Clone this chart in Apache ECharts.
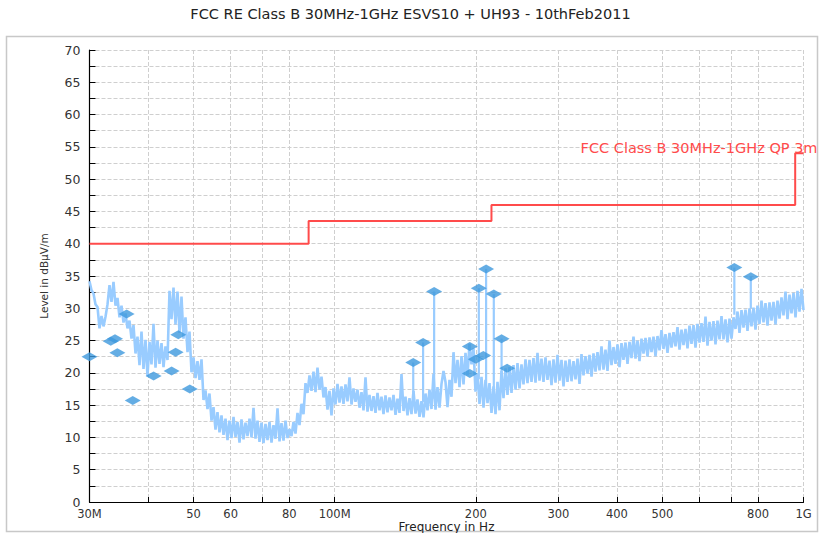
<!DOCTYPE html>
<html>
<head>
<meta charset="utf-8">
<script src="https://cdn.jsdelivr.net/npm/echarts@6/dist/echarts.min.js"></script>
<style>
  html, body { margin: 0; padding: 0; background: #fff; }
  #chart { width: 821px; height: 533px; }
</style>
</head>
<body>
<div id="chart"></div>
<script>
// sweep 30 MHz .. 1 GHz, log spaced points, level in dBµV/m
const sweepStartMHz = 30
const sweepStopMHz = 1000
const sweepLevels = [
  34.2, 32.8, 32.3, 30.6, 30.2, 26.9, 28.8, 27.2, 28.7, 30.6,
  33.6, 31.0, 34.1, 30.4, 31.6, 28.6, 30.4, 27.8, 29.2, 26.9,
  28.1, 25.3, 27.4, 23.0, 25.6, 21.2, 26.4, 20.6, 25.1, 19.5,
  24.8, 21.3, 27.6, 20.8, 25.0, 21.4, 24.6, 20.9, 24.1, 22.0,
  32.7, 28.3, 33.2, 27.5, 32.6, 26.2, 31.8, 25.3, 28.6, 23.2,
  26.4, 20.1, 22.4, 19.2, 21.8, 18.9, 22.1, 15.8, 17.3, 14.4,
  16.8, 12.6, 14.7, 11.2, 13.9, 10.8, 13.4, 10.4, 12.9, 9.6,
  12.6, 9.9, 13.2, 10.1, 12.4, 9.2, 12.8, 9.7, 12.3, 10.2,
  12.9, 10.0, 14.6, 9.8, 12.6, 9.3, 12.3, 9.1, 12.1, 9.6,
  12.4, 9.2, 11.9, 9.8, 14.5, 9.4, 12.2, 9.5, 12.6, 9.9,
  11.3, 10.2, 12.4, 10.6, 13.8, 11.9, 15.2, 13.6, 18.4, 16.9,
  19.6, 17.2, 20.2, 17.0, 20.8, 17.4, 19.4, 16.2, 17.8, 14.3,
  17.2, 13.4, 17.6, 15.1, 18.3, 15.4, 17.9, 15.2, 18.2, 15.6,
  19.3, 15.1, 17.6, 15.5, 17.4, 14.6, 17.0, 14.2, 19.3, 14.0,
  16.6, 14.1, 16.4, 13.8, 16.9, 14.2, 16.3, 13.6, 16.5, 13.9,
  16.2, 14.2, 16.6, 13.5, 16.0, 13.8, 19.8, 14.1, 16.3, 13.4,
  16.1, 13.6, 17.2, 13.7, 15.9, 13.2, 15.6, 13.1, 16.8, 14.2,
  17.4, 14.4, 19.8, 14.3, 17.8, 14.6, 18.3, 20.3, 18.6, 14.7,
  18.9, 16.3, 23.2, 18.4, 22.0, 17.8, 22.6, 18.2, 23.1, 19.6,
  24.5, 21.3, 23.8, 17.1, 19.8, 15.2, 19.4, 14.6, 18.9, 15.3,
  18.4, 13.8, 17.9, 13.6, 18.6, 14.2, 20.3, 16.1, 20.7, 16.6,
  20.9, 16.9, 21.2, 17.4, 21.5, 17.6, 21.3, 18.2, 22.1, 18.4,
  22.0, 18.6, 22.3, 18.5, 23.1, 18.8, 22.2, 18.6, 22.4, 18.9,
  21.9, 18.1, 22.1, 18.5, 22.8, 18.8, 22.0, 17.9, 21.9, 18.6,
  22.1, 18.7, 21.8, 19.0, 22.2, 18.3, 22.9, 19.6, 22.6, 19.9,
  22.8, 19.4, 23.0, 20.2, 23.2, 20.4, 24.1, 20.5, 23.6, 20.3,
  25.0, 21.2, 24.0, 21.4, 24.4, 20.9, 24.6, 22.0, 24.7, 21.4,
  24.8, 22.3, 25.6, 22.2, 25.0, 21.8, 25.3, 23.0, 25.4, 22.5,
  25.5, 23.2, 25.6, 22.6, 25.7, 23.5, 26.6, 23.7, 26.0, 23.1,
  26.2, 23.9, 26.3, 24.1, 27.1, 23.6, 26.7, 24.3, 26.8, 23.8,
  27.3, 24.5, 27.4, 23.9, 27.6, 24.7, 27.7, 24.8, 28.7, 24.2,
  27.9, 25.0, 28.0, 24.4, 28.1, 25.2, 28.8, 25.2, 28.3, 24.7,
  28.4, 25.3, 28.6, 26.8, 29.5, 26.2, 29.7, 27.0, 29.8, 26.5,
  30.0, 27.2, 30.1, 26.7, 30.4, 27.6, 31.2, 27.8, 30.8, 27.3,
  30.9, 28.1, 31.0, 27.5, 31.2, 28.4, 31.7, 28.9, 32.6, 28.3,
  32.1, 29.2, 32.4, 28.6, 32.7, 29.5, 33.0, 29.7
]

// final measurements (diamonds)
const markerFreqs = [30.0, 33.3, 34.0, 34.4, 36.0, 37.1, 41.1, 44.9, 45.8, 46.4, 49.1,
  147.1, 154.4, 163.0, 194.2, 194.2, 200.0, 203.0, 207.5, 210.4, 218.5, 227.0, 233.3, 712, 772]
const markerLevels = [22.5, 24.9, 25.3, 23.1, 29.1, 15.7, 19.5, 20.3, 23.2, 25.9, 17.5,
  21.6, 24.7, 32.6, 24.1, 19.9, 22.1, 33.1, 22.7, 36.1, 32.2, 25.3, 20.7, 36.3, 34.9]

// peak stems below the markers
const stemFreqs = [147.1, 154.4, 163.0, 203.0, 210.4, 218.5, 227.0, 712, 772]
const stemTops = [21.6, 24.7, 32.6, 33.1, 36.1, 32.2, 25.3, 36.3, 34.9]
const stemBottoms = [15.5, 15.5, 16.0, 19.0, 16.5, 15.0, 18.0, 29.0, 30.0]

// FCC class B QP 3m limit
const limitFreqs = [30, 88, 88, 216, 216, 960, 960, 1000]
const limitLevels = [40, 40, 43.5, 43.5, 46, 46, 54, 54]

const tickFreqs = [30, 40, 50, 60, 70, 80, 100, 200, 300, 400, 500, 600, 700, 800, 1000]
const labelFreqs = [30, 50, 60, 80, 100, 200, 300, 400, 500, 800, 1000]
const freqNames = { 30: '30M', 100: '100M', 1000: '1G' }

const font = 'DejaVu Sans'
const lg = f => (f === 1000 ? 3 : Math.log10(f))

let myChart = echarts.init(document.getElementById('chart'), null, { renderer: 'svg' })

const sweep = sweepLevels.map((v, i) => {
  const f = sweepStartMHz * Math.pow(sweepStopMHz / sweepStartMHz, i / (sweepLevels.length - 1))
  return [Math.log10(f), v]
})

let option = {
  animation: false,
  title: {
    text: 'FCC RE Class B 30MHz-1GHz ESVS10 + UH93 - 10thFeb2011',
    left: 'center',
    top: 1,
    textStyle: { fontFamily: font, fontSize: 14.5, fontWeight: 'normal', color: '#222' },
  },
  graphic: [
    {
      type: 'rect',
      shape: { x: 6.5, y: 36.5, width: 811, height: 495 },
      style: { fill: 'none', stroke: '#c8c8c8', lineWidth: 1.5 },
      silent: true,
      z: -10,
    },
  ],
  grid: { left: 89.5, right: 17.5, top: 50, bottom: 31, containLabel: false, outerBoundsMode: 'none' },
  xAxis: {
    type: 'value',
    min: lg(30),
    max: 3,
    name: 'Frequency in Hz',
    nameLocation: 'middle',
    nameGap: 19,
    nameMoveOverlap: false,
    nameTextStyle: { fontFamily: font, fontSize: 12, lineHeight: 12, color: '#222' },
    axisLine: { lineStyle: { color: '#000', width: 1.2 } },
    axisTick: {
      inside: true,
      length: 5,
      customValues: tickFreqs.map(lg),
      lineStyle: { color: '#000' },
    },
    axisLabel: {
      customValues: labelFreqs.map(lg),
      margin: 6,
      fontFamily: font,
      fontSize: 11.5,
      lineHeight: 12,
      color: '#333',
      formatter: (v) => {
        const f = Math.round(Math.pow(10, v))
        return freqNames[f] || String(f)
      },
    },
    splitLine: {
      show: true,
      lineStyle: { color: '#cfcfcf', type: 'dashed', width: 1 },
    },
  },
  yAxis: {
    type: 'value',
    min: 0,
    max: 70,
    interval: 5,
    name: 'Level in dBµV/m',
    nameLocation: 'middle',
    nameRotate: 90,
    nameGap: 40,
    nameTextStyle: { fontFamily: font, fontSize: 10.5, color: '#333' },
    axisLine: { show: true, lineStyle: { color: '#000', width: 1.2 } },
    axisTick: { show: true, inside: true, length: 6, lineStyle: { color: '#000' } },
    minorTick: { show: true, splitNumber: 2, length: 6, lineStyle: { color: '#000' } },
    axisLabel: { margin: 9, fontFamily: font, fontSize: 12.5, lineHeight: 10, color: '#333' },
    splitLine: { lineStyle: { color: '#cfcfcf', type: 'dashed' } },
    minorSplitLine: { show: true, lineStyle: { color: '#cfcfcf', type: 'dashed' } },
  },
  series: [
    {
      name: 'sweep',
      type: 'line',
      data: sweep,
      showSymbol: false,
      lineStyle: { color: '#99ccff', width: 2.6 },
      itemStyle: { color: '#99ccff' },
      z: 2,
    },
    {
      name: 'limit',
      type: 'line',
      data: limitFreqs.map((f, i) => {
        const item = { value: [lg(f), limitLevels[i]] }
        if (i === limitFreqs.length - 1) {
          item.label = {
            show: true,
            formatter: 'FCC Class B 30MHz-1GHz QP 3m',
            position: 'top',
            align: 'right',
            distance: 0,
            offset: [14, 2],
            fontFamily: font,
            fontSize: 14.5,
            color: '#ff4b4b',
          }
        }
        return item
      }),
      symbol: 'circle',
      symbolSize: 0,
      showSymbol: true,
      lineStyle: { color: '#ff4b4b', width: 2 },
      itemStyle: { color: '#ff4b4b' },
      z: 3,
    },
    {
      name: 'stems',
      type: 'custom',
      data: stemFreqs.map((f, i) => [lg(f), stemTops[i], stemBottoms[i]]),
      encode: { x: 0, y: [1, 2] },
      renderItem: (params, api) => {
        const top = api.coord([api.value(0), api.value(1)])
        const bot = api.coord([api.value(0), api.value(2)])
        return {
          type: 'line',
          shape: { x1: top[0], y1: top[1], x2: bot[0], y2: bot[1] },
          style: { stroke: '#99ccff', lineWidth: 2.2 },
        }
      },
      z: 4,
    },
    {
      name: 'final',
      type: 'scatter',
      data: markerFreqs.map((f, i) => [lg(f), markerLevels[i]]),
      symbol: 'diamond',
      symbolSize: [16, 9],
      itemStyle: { color: '#3d98dd' },
      z: 5,
    },
  ],
}
myChart.setOption(option)
window.addEventListener('resize', () => {
  myChart.resize()
})
</script>
</body>
</html>
